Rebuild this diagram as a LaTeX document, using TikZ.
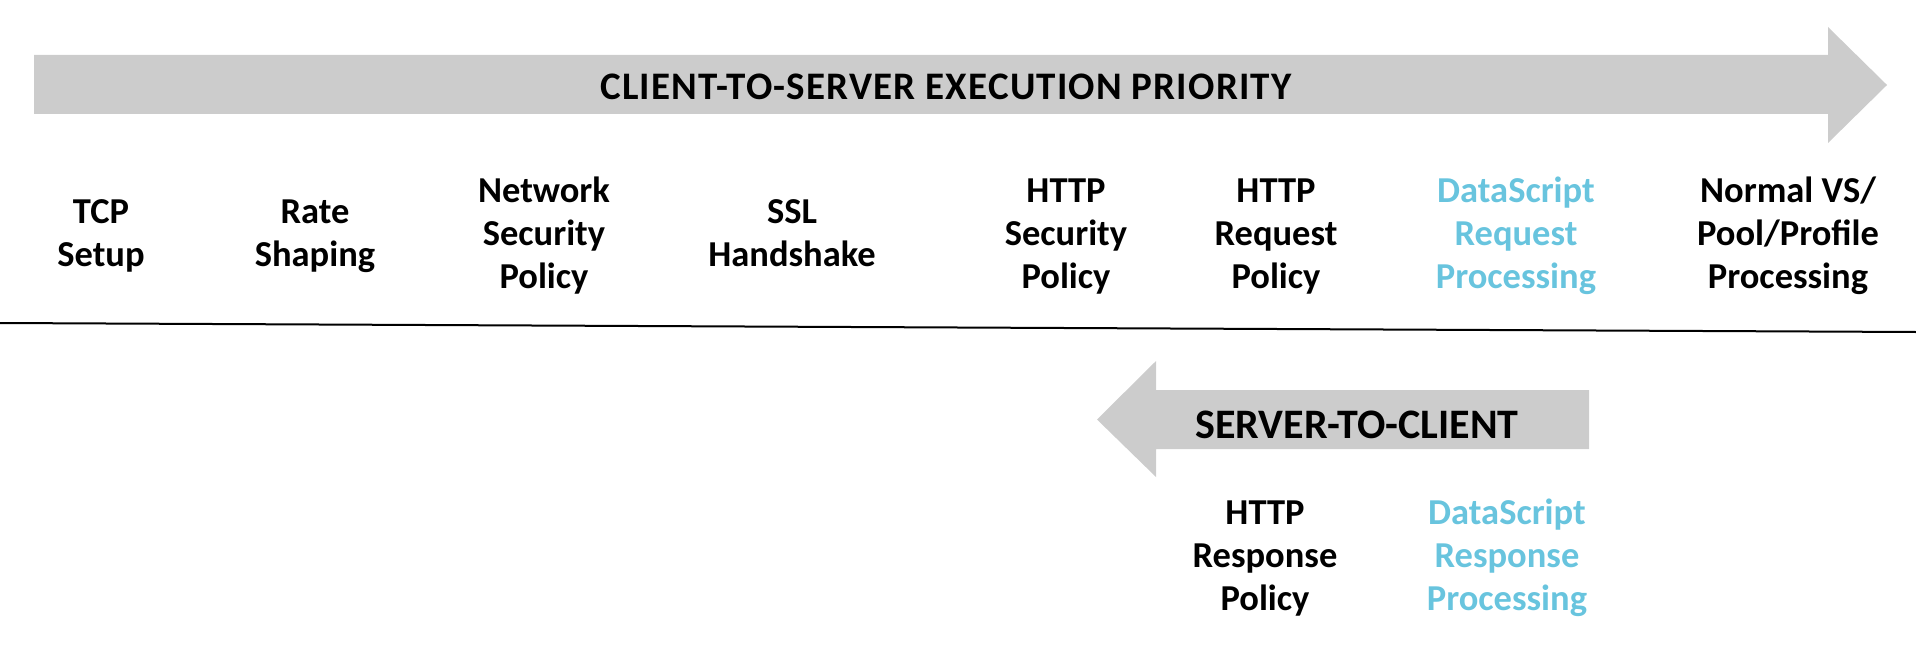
\documentclass[tikz,border=0pt]{standalone}
\usepackage{fontspec}
\setmainfont{Carlito}
\definecolor{arrowgray}{RGB}{204,204,204}
\definecolor{dsblue}{RGB}{104,196,222}
\newcommand{\lbl}[1]{\begin{tabular}[t]{@{}c@{}}#1\end{tabular}}
\begin{document}
\begin{tikzpicture}[x=1pt,y=-1pt,
  lab/.style={anchor=base,inner sep=0pt,font=\fontsize{36.5}{43}\selectfont\bfseries},
  ds/.style={lab,text=dsblue},
  ttl/.style={anchor=base,inner sep=0pt,font=\fontsize{39}{44}\selectfont\bfseries\addfontfeatures{LetterSpace=3}}]
\useasboundingbox (0,0) rectangle (1916,658);
% top arrow
\fill[arrowgray] (34,55) -- (1828,55) -- (1828,27) -- (1887,85) -- (1828,143) -- (1828,114) -- (34,114) -- cycle;
\node[ttl] (t1) at (946,100) {CLIENT-TO-SERVER EXECUTION PRIORITY};
% labels
\node[lab] (tcp) at (101,223) {\lbl{TCP\\Setup}};
\node[lab] (rate) at (315,223) {\lbl{Rate\\Shaping}};
\node[lab] (nsp) at (544,202) {\lbl{Network\\Security\\Policy}};
\node[lab] (ssl) at (792,223) {\lbl{SSL\\Handshake}};
\node[lab] (hsp) at (1066,202) {\lbl{HTTP\\Security\\Policy}};
\node[lab] (hrp) at (1276,202) {\lbl{HTTP\\Request\\Policy}};
\node[ds] (dsr) at (1516,202) {\lbl{DataScript\\Request\\Processing}};
\node[lab] (nvs) at (1788,202) {\lbl{Normal VS/\\Pool/Profile\\Processing}};
% divider
\coordinate (l1) at (0,323);
\coordinate (l2) at (1916,332);
\draw[line width=2pt] (l1) -- (l2);
% bottom arrow
\fill[arrowgray] (1589,390) -- (1156,390) -- (1156,361) -- (1097,419.5) -- (1156,477) -- (1156,449) -- (1589,449) -- cycle;
\node[anchor=base,inner sep=0pt,font=\fontsize{42}{48}\selectfont\bfseries] (t2) at (1357,438) {SERVER-TO-CLIENT};
\node[lab] (hresp) at (1265,524) {\lbl{HTTP\\Response\\Policy}};
\node[ds] (dsresp) at (1507,524) {\lbl{DataScript\\Response\\Processing}};
\end{tikzpicture}
\end{document}
